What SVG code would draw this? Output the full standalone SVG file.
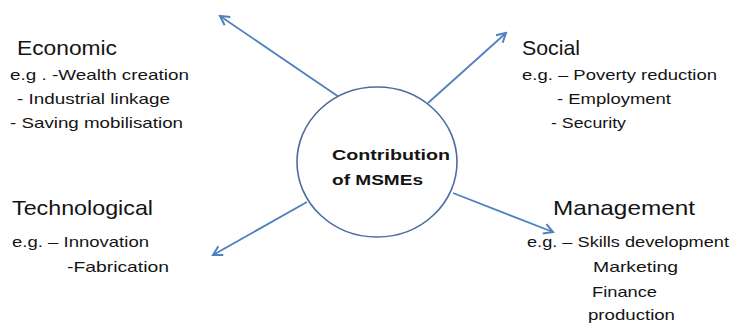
<svg xmlns="http://www.w3.org/2000/svg" width="732" height="323" viewBox="0 0 732 323">
  <defs>
    <marker id="arrow" markerUnits="userSpaceOnUse" markerWidth="14" markerHeight="14" viewBox="0 0 14 14" refX="12" refY="7" orient="auto">
      <path d="M3,2 L12,7 L3,12" fill="none" stroke="#4f81bd" stroke-width="2" stroke-linejoin="miter"/>
    </marker>
    <style>
      .hub { fill: #ffffff; stroke: #4a6d9e; stroke-width: 1.6; }
      .link { fill: none; stroke: #4f81bd; stroke-width: 1.8; marker-end: url(#arrow); }
      .head { font-family: "Liberation Sans", Arial, sans-serif; font-size: 21px; fill: #141414; }
      .item { font-family: "Liberation Sans", Arial, sans-serif; font-size: 15px; fill: #141414; }
      .core { font-family: "Liberation Sans", Arial, sans-serif; font-size: 15px; font-weight: bold; fill: #141414; }
    </style>
  </defs>

  <!-- connectors from the central hub -->
  <g id="connectors">
    <line class="link" x1="339" y1="97" x2="220" y2="16"/>
    <line class="link" x1="428" y1="103" x2="506" y2="33"/>
    <line class="link" x1="307" y1="202" x2="213" y2="255"/>
    <line class="link" x1="453" y1="193" x2="553" y2="232"/>
  </g>

  <g id="hub">
    <ellipse class="hub" cx="377" cy="162" rx="80" ry="75"/>
    <text class="core" x="332" y="160" textLength="118" lengthAdjust="spacingAndGlyphs">Contribution</text>
    <text class="core" x="332" y="185" textLength="91" lengthAdjust="spacingAndGlyphs">of MSMEs</text>
  </g>

  <g id="economic">
    <text class="head" x="17" y="55" textLength="100" lengthAdjust="spacingAndGlyphs">Economic</text>
    <text class="item" x="10" y="80" textLength="179" lengthAdjust="spacingAndGlyphs">e.g . -Wealth creation</text>
    <text class="item" x="17" y="104" textLength="153" lengthAdjust="spacingAndGlyphs">- Industrial  linkage</text>
    <text class="item" x="10" y="128" textLength="173" lengthAdjust="spacingAndGlyphs">- Saving  mobilisation</text>
  </g>

  <g id="social">
    <text class="head" x="522" y="55" textLength="58" lengthAdjust="spacingAndGlyphs">Social</text>
    <text class="item" x="522" y="80" textLength="195" lengthAdjust="spacingAndGlyphs">e.g. – Poverty  reduction</text>
    <text class="item" x="557" y="104" textLength="114" lengthAdjust="spacingAndGlyphs">- Employment</text>
    <text class="item" x="551" y="128" textLength="75" lengthAdjust="spacingAndGlyphs">- Security</text>
  </g>

  <g id="technological">
    <text class="head" x="12" y="215" textLength="141" lengthAdjust="spacingAndGlyphs">Technological</text>
    <text class="item" x="12" y="247" textLength="137" lengthAdjust="spacingAndGlyphs">e.g. – Innovation</text>
    <text class="item" x="67" y="272" textLength="102" lengthAdjust="spacingAndGlyphs">-Fabrication</text>
  </g>

  <g id="management">
    <text class="head" x="553" y="215" textLength="142" lengthAdjust="spacingAndGlyphs">Management</text>
    <text class="item" x="527" y="247" textLength="202" lengthAdjust="spacingAndGlyphs">e.g. – Skills development</text>
    <text class="item" x="593" y="272" textLength="85" lengthAdjust="spacingAndGlyphs">Marketing</text>
    <text class="item" x="592" y="297" textLength="65" lengthAdjust="spacingAndGlyphs">Finance</text>
    <text class="item" x="588" y="320" textLength="87" lengthAdjust="spacingAndGlyphs">production</text>
  </g>
</svg>
